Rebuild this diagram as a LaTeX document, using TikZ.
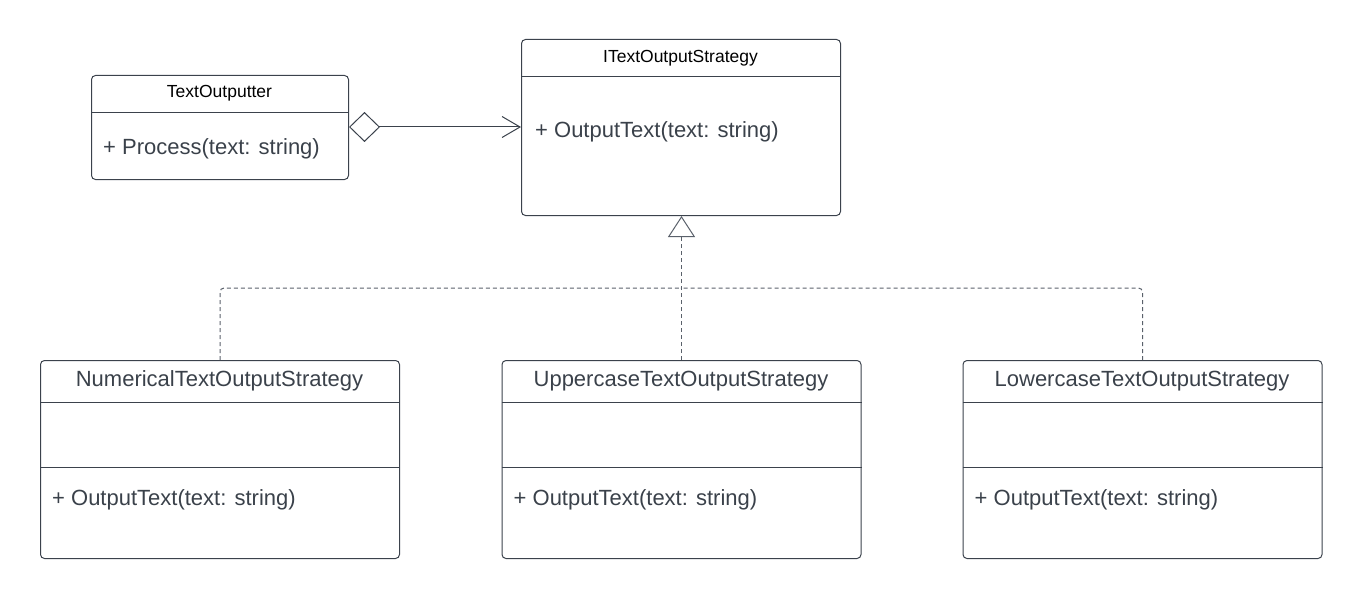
\documentclass[tikz,border=0pt]{standalone}
\usepackage{fontspec}
\setmainfont{Liberation Sans}
\usetikzlibrary{arrows.meta,calc}
\definecolor{linec}{HTML}{3B424C}
\definecolor{textc}{HTML}{3A414A}
\definecolor{dashc}{HTML}{5A616B}
\begin{document}
\begin{tikzpicture}[x=1pt,y=-1pt,
  cls/.style={draw=linec, line width=1pt, rounded corners=4pt, rectangle, inner sep=0pt, anchor=north west},
  ttl/.style={font=\fontsize{17.5}{20}\selectfont, text=black, inner sep=0pt, anchor=base},
  ttlb/.style={font=\fontsize{22}{26}\selectfont, text=textc, inner sep=0pt, anchor=base},
  mem/.style={font=\fontsize{22}{26}\selectfont, text=textc, inner sep=0pt, anchor=base west},
  sep/.style={draw=linec, line width=1pt},
  realiz/.style={draw=dashc, line width=1pt, dash pattern=on 4pt off 3pt, rounded corners=4pt},
  assoc/.style={draw=linec, line width=1pt}
]
\useasboundingbox (0,0) rectangle (1363,599);

% TextOutputter
\node[cls, minimum width=257pt, minimum height=104pt] (to) at (91,75) {};
\draw[sep] ($(to.north west)+(0,38)$) -- ($(to.north east)+(0,38)$);
\node[ttl] (toT) at (219.5,98) {TextOutputter};
\node[mem] (toM) at (103,154) {+ Process(text: string)};

% ITextOutputStrategy
\node[cls, minimum width=319pt, minimum height=176pt] (is) at (521,39) {};
\draw[sep] ($(is.north west)+(0,38)$) -- ($(is.north east)+(0,38)$);
\node[ttl] (isT) at (680.5,63) {ITextOutputStrategy};
\node[mem] (isM) at (535,138) {+ OutputText(text: string)};

% bottom classes
\foreach \n/\x/\t in {nu/40/NumericalTextOutputStrategy, up/501.5/UppercaseTextOutputStrategy, lo/962.5/LowercaseTextOutputStrategy}{
  \node[cls, minimum width=359pt, minimum height=198pt] (\n) at (\x,360) {};
  \draw[sep] ($(\n.north west)+(0,42)$) -- ($(\n.north east)+(0,42)$);
  \draw[sep] ($(\n.north west)+(0,107)$) -- ($(\n.north east)+(0,107)$);
  \node[ttlb] (\n T) at ($(\x,386)+(179.5,0)$) {\t};
  \node[mem] (\n M) at ($(\x,505)+(12,0)$) {+ OutputText(text: string)};
}

% aggregation
\draw[assoc, {Diamond[open,length=31pt,width=30pt]}-{Straight Barb[length=18pt,width=21pt]}]
  (to.east |- 0,127) -- (is.west |- 0,127);

% realization
\coordinate (jn) at (680.5,288);
\draw[realiz] (nu.north) |- (jn);
\draw[realiz] (lo.north) |- (jn);
\draw[realiz, -{Triangle[open,length=21pt,width=27pt]}] (up.north) -- (up.north |- is.south);
\end{tikzpicture}
\end{document}
